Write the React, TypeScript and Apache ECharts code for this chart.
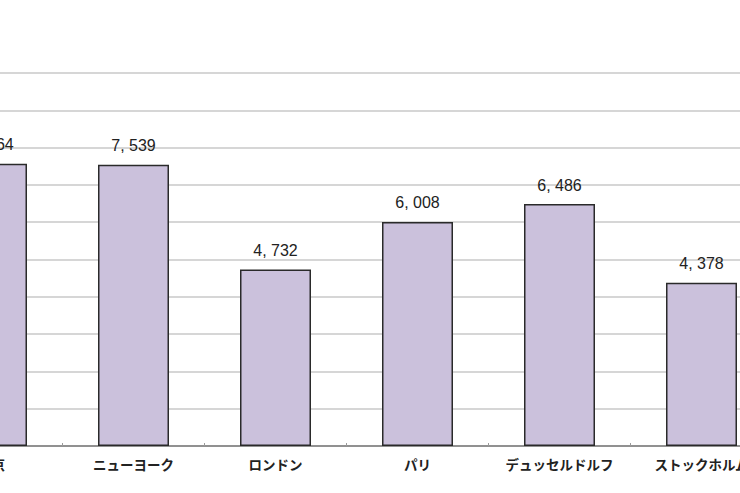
import { useEffect, useRef } from 'react';
import * as echarts from 'echarts';

// values (yen), cropped view of a wider chart
const cities = ['東京', 'ニューヨーク', 'ロンドン', 'パリ', 'デュッセルドルフ', 'ストックホルム'];
const values = [7564, 7539, 4732, 6008, 6486, 4378];

const yMax = 10000;
const yStep = 1000;

function fmt(v: number) {
  return String(v).replace(/\B(?=(\d{3})+(?!\d))/g, ', ');
}

export default function App() {
  const chartRef = useRef<HTMLDivElement>(null);

  useEffect(() => {
    if (!chartRef.current) return;
    const chart = echarts.init(chartRef.current, undefined, { renderer: 'svg' });

    chart.setOption({
      animation: false,
      backgroundColor: '#ffffff',
      grid: {
        left: 40.5,
        width: 852,
        top: 73,
        height: 373,
      },
      xAxis: {
        type: 'category',
        data: cities,
        axisLine: { lineStyle: { color: '#7a7a7a', width: 1.5 } },
        axisTick: {
          show: true,
          inside: true,
          length: 3,
          interval: 0,
          lineStyle: { color: '#9a9a9a' },
        },
        axisLabel: {
          interval: 0,
          hideOverlap: false,
          color: '#222',
          fontFamily: '"Noto Sans CJK JP", sans-serif',
          fontWeight: 'bold',
          fontSize: 13.5,
          margin: 11,
        },
      },
      yAxis: {
        type: 'value',
        min: 0,
        max: yMax,
        interval: yStep,
        axisLine: { show: false },
        axisTick: { show: false },
        axisLabel: { show: false },
        splitLine: { lineStyle: { color: '#c9c9c9', width: 1.5 } },
      },
      series: [
        {
          type: 'bar',
          data: values,
          barWidth: '50%',
          itemStyle: {
            color: '#cbc1dc',
            borderColor: '#2a2a2a',
            borderWidth: 1.5,
          },
          label: {
            show: true,
            position: 'top',
            distance: 11,
            color: '#222',
            fontFamily: '"Liberation Sans Narrow", "Liberation Sans", sans-serif',
            fontSize: 16,
            formatter: (p: any) => fmt(p.value),
          },
        },
      ],
    });

    return () => {
      chart.dispose();
    };
  }, []);

  return (
    <div
      style={{
        position: 'fixed',
        left: 0,
        top: 0,
        width: 740,
        height: 493,
        overflow: 'hidden',
        background: '#fff',
      }}
    >
      <div
        ref={chartRef}
        style={{ position: 'absolute', left: -120, top: 0, width: 1000, height: 493 }}
      />
    </div>
  );
}
